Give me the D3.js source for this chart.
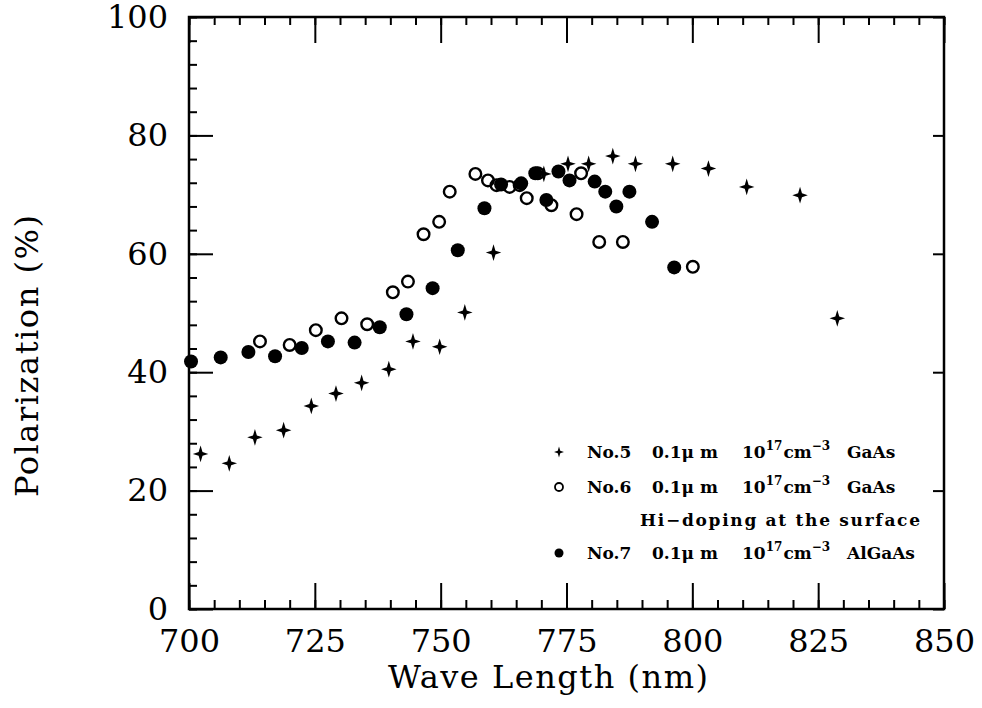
<!DOCTYPE html>
<html>
<head>
<meta charset="utf-8">
<script src="https://cdn.jsdelivr.net/npm/d3@7"></script>
<style>
  body { margin: 0; background: #fff; }
</style>
</head>
<body>
<svg width="982" height="708"></svg>
<script>
// values
const no5Wave = [702.3, 708.0, 713.1, 718.8, 724.3, 729.2, 734.3, 739.7, 744.5, 749.8, 754.8, 760.5, 770.5, 775.3, 779.4, 784.2, 788.7, 796.1, 803.2, 810.8, 821.4, 828.8];
const no5Pol  = [26.2, 24.6, 29.0, 30.2, 34.3, 36.4, 38.2, 40.5, 45.2, 44.3, 50.1, 60.2, 73.5, 75.2, 75.2, 76.5, 75.2, 75.2, 74.4, 71.3, 69.9, 49.1];

const no6Wave = [714.1, 720.0, 725.2, 730.3, 735.4, 740.5, 743.5, 746.6, 749.7, 751.8, 756.9, 759.4, 761.1, 763.7, 765.7, 767.1, 769.3, 772.0, 777.0, 777.9, 781.5, 786.2, 800.1];
const no6Pol  = [45.2, 44.6, 47.1, 49.1, 48.1, 53.5, 55.3, 63.3, 65.4, 70.5, 73.5, 72.4, 71.6, 71.3, 71.6, 69.4, 73.6, 68.2, 66.7, 73.6, 62.0, 62.0, 57.8];

const no7Wave = [700.4, 706.3, 711.8, 717.1, 722.4, 727.6, 732.9, 737.9, 743.2, 748.4, 753.4, 758.7, 762.0, 766.0, 768.8, 771.0, 773.4, 775.6, 780.6, 782.7, 784.9, 787.5, 792.0, 796.4];
const no7Pol  = [41.8, 42.5, 43.4, 42.7, 44.1, 45.2, 45.0, 47.6, 49.8, 54.2, 60.6, 67.7, 71.7, 71.9, 73.6, 69.1, 73.9, 72.4, 72.2, 70.5, 68.0, 70.5, 65.4, 57.7];

const xMajor = [700, 725, 750, 775, 800, 825, 850];
const yMajor = [0, 20, 40, 60, 80, 100];
const xMinor = d3.range(700, 851, 5);
const yMinor = d3.range(0, 101, 4);

const legendRows = ['No.5', 'No.6', 'No.7'];
const legendMaterial = ['GaAs', 'GaAs', 'AlGaAs'];

const svg = d3.select('svg');

const margin = { top: 17, right: 38, bottom: 99, left: 189 };
const width = +svg.attr('width');
const height = +svg.attr('height');
const innerWidth = width - margin.left - margin.right;
const innerHeight = height - margin.top - margin.bottom;

const xScale = d3.scaleLinear().domain([700, 850]).range([0, innerWidth]);
const yScale = d3.scaleLinear().domain([0, 100]).range([innerHeight, 0]);

const g = svg.append('g')
  .attr('transform', `translate(${margin.left},${margin.top})`);

// four point star used for No.5
const sparkle = {
  draw(ctx, size) {
    const r = Math.sqrt(size);
    const w = r * 0.25;
    ctx.moveTo(0, -r * 1.08);
    ctx.lineTo(w, -w);
    ctx.lineTo(r, 0);
    ctx.lineTo(w, w);
    ctx.lineTo(0, r * 1.08);
    ctx.lineTo(-w, w);
    ctx.lineTo(-r, 0);
    ctx.lineTo(-w, -w);
    ctx.closePath();
  }
};

// axes: ticks point inward
const styleAxis = sel => {
  sel.select('.domain').remove();
  sel.attr('font-family', 'DejaVu Serif, serif').attr('font-size', 32);
  sel.selectAll('.tick line').attr('stroke', '#000').attr('stroke-width', 2);
  sel.selectAll('.tick text').attr('fill', '#000');
};
const ticksOnly = sel => {
  styleAxis(sel);
  sel.selectAll('.tick text').remove();
};

g.append('g')
  .attr('transform', `translate(0,${innerHeight})`)
  .call(d3.axisBottom(xScale).tickValues(xMinor).tickSize(-9))
  .call(ticksOnly);
g.append('g')
  .attr('transform', `translate(0,${innerHeight})`)
  .call(d3.axisBottom(xScale).tickValues(xMajor).tickSize(-26).tickPadding(20).tickFormat(d3.format('d')))
  .call(styleAxis);

g.append('g')
  .call(d3.axisTop(xScale).tickValues(xMinor).tickSize(-8))
  .call(ticksOnly);
g.append('g')
  .call(d3.axisTop(xScale).tickValues(xMajor).tickSize(-26))
  .call(ticksOnly);

g.append('g')
  .call(d3.axisLeft(yScale).tickValues(yMinor).tickSize(-8))
  .call(ticksOnly);
g.append('g')
  .call(d3.axisLeft(yScale).tickValues(yMajor).tickSize(-24).tickPadding(21).tickFormat(d3.format('d')))
  .call(styleAxis);

g.append('g')
  .attr('transform', `translate(${innerWidth},0)`)
  .call(d3.axisRight(yScale).tickValues(yMajor).tickSize(-11))
  .call(ticksOnly);

g.append('rect')
  .attr('width', innerWidth)
  .attr('height', innerHeight)
  .attr('fill', 'none')
  .attr('stroke', '#000')
  .attr('stroke-width', 2.5);

// axis titles
svg.append('text')
  .attr('font-family', 'DejaVu Serif, serif')
  .attr('font-size', 32)
  .attr('x', 388)
  .attr('y', 688)
  .attr('textLength', 320)
  .attr('lengthAdjust', 'spacing')
  .text('Wave Length (nm)');

svg.append('text')
  .attr('font-family', 'DejaVu Serif, serif')
  .attr('font-size', 32)
  .attr('transform', 'translate(38,497) rotate(-90)')
  .attr('textLength', 282)
  .attr('lengthAdjust', 'spacing')
  .text('Polarization (%)');

// points
const pts = (xs, ys) => xs.map((x, i) => ({ x, y: ys[i] }));

g.selectAll('.p5').data(pts(no5Wave, no5Pol)).enter()
  .append('path')
  .attr('class', 'p5')
  .attr('transform', d => `translate(${xScale(d.x)},${yScale(d.y)})`)
  .attr('d', d3.symbol().type(sparkle).size(60))
  .attr('fill', '#000');

g.selectAll('.p6').data(pts(no6Wave, no6Pol)).enter()
  .append('circle')
  .attr('class', 'p6')
  .attr('cx', d => xScale(d.x))
  .attr('cy', d => yScale(d.y))
  .attr('r', 5.8)
  .attr('fill', 'none')
  .attr('stroke', '#000')
  .attr('stroke-width', 2.4);

g.selectAll('.p7').data(pts(no7Wave, no7Pol)).enter()
  .append('circle')
  .attr('class', 'p7')
  .attr('cx', d => xScale(d.x))
  .attr('cy', d => yScale(d.y))
  .attr('r', 7)
  .attr('fill', '#000');

// legend
const legend = svg.append('g')
  .attr('font-family', 'DejaVu Serif, serif')
  .attr('font-weight', 'bold')
  .attr('font-size', 17);
const rowY = [452, 487, 553];
const mx = 559;

legend.append('path')
  .attr('transform', `translate(${mx},${rowY[0]})`)
  .attr('d', d3.symbol().type(sparkle).size(25))
  .attr('fill', '#000');
legend.append('circle')
  .attr('cx', mx).attr('cy', rowY[1]).attr('r', 4)
  .attr('fill', 'none').attr('stroke', '#000').attr('stroke-width', 1.8);
legend.append('circle')
  .attr('cx', mx).attr('cy', rowY[2]).attr('r', 4.5)
  .attr('fill', '#000');

legendRows.forEach((name, i) => {
  const y = rowY[i] + 6;
  legend.append('text').attr('x', 587).attr('y', y).text(name);
  legend.append('text').attr('x', 652).attr('y', y).text('0.1\u03bc m');
  const t = legend.append('text').attr('x', 742).attr('y', y);
  t.append('tspan').text('10');
  t.append('tspan').attr('dy', -8).attr('font-size', 12).text('17');
  t.append('tspan').attr('dy', 8).attr('dx', 1).text('cm');
  t.append('tspan').attr('dy', -8).attr('font-size', 12).text('\u22123');
  legend.append('text').attr('x', 847).attr('y', y).text(legendMaterial[i]);
});

legend.append('text')
  .attr('x', 640)
  .attr('y', 526)
  .attr('textLength', 280)
  .attr('lengthAdjust', 'spacing')
  .text('Hi\u2212doping at the surface');
</script>
</body>
</html>
